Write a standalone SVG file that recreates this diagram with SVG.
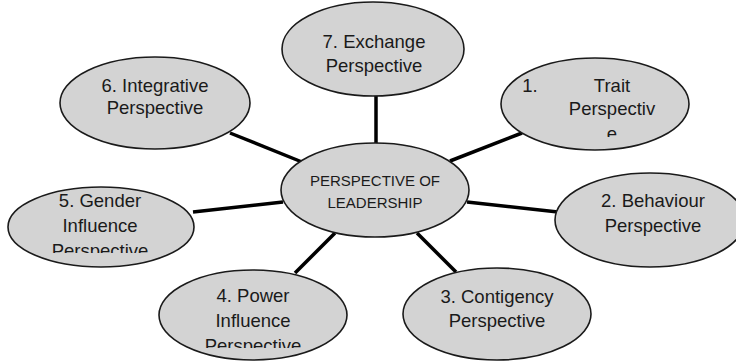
<svg xmlns="http://www.w3.org/2000/svg" width="736" height="361" viewBox="0 0 736 361">
<style>
.n{fill:#d3d3d3;stroke:#1a1a1a;stroke-width:1.6}
.t{font-family:"Liberation Sans",Arial,sans-serif;font-size:18.5px;fill:#1a1a1a;text-anchor:middle}
.c{font-family:"Liberation Sans",Arial,sans-serif;font-size:15px;fill:#1a1a1a;text-anchor:middle}
.e{stroke:#000;stroke-width:3.5;fill:none}
</style>
<defs>
<clipPath id="clipTrait"><rect x="500" y="50" width="200" height="87"/></clipPath>
<clipPath id="clipGender"><rect x="0" y="180" width="200" height="73"/></clipPath>
<clipPath id="clipPower"><rect x="150" y="265" width="210" height="83"/></clipPath>
</defs>
<rect width="736" height="361" fill="#fff"/>
<g id="connectors">
<line class="e" x1="376" y1="96" x2="376" y2="145"/>
<line class="e" x1="230" y1="133" x2="302" y2="162"/>
<line class="e" x1="450" y1="161" x2="522" y2="133"/>
<line class="e" x1="193" y1="212" x2="283" y2="202"/>
<line class="e" x1="467" y1="202" x2="558" y2="212"/>
<line class="e" x1="335" y1="233" x2="295" y2="273"/>
<line class="e" x1="417" y1="233" x2="456" y2="272"/>
</g>
<g id="center">
<ellipse class="n" cx="375" cy="190" rx="94" ry="47"/>
<text class="c" x="375" y="186">PERSPECTIVE OF</text>
<text class="c" x="375" y="208">LEADERSHIP</text>
</g>
<g id="n7">
<ellipse class="n" cx="373" cy="49" rx="91" ry="47"/>
<text class="t" x="374" y="48">7. Exchange</text>
<text class="t" x="374" y="72">Perspective</text>
</g>
<g id="n6">
<ellipse class="n" cx="155" cy="103" rx="95" ry="46"/>
<text class="t" x="155" y="92">6. Integrative</text>
<text class="t" x="155" y="114">Perspective</text>
</g>
<g id="n1">
<ellipse class="n" cx="595" cy="104" rx="94" ry="46"/>
<g clip-path="url(#clipTrait)">
<text class="t" x="530" y="92" text-anchor="start">1.</text>
<text class="t" x="612" y="92">Trait</text>
<text class="t" x="612" y="115">Perspectiv</text>
<text class="t" x="612" y="140">e</text>
</g>
</g>
<g id="n5">
<ellipse class="n" cx="101" cy="227" rx="93" ry="40"/>
<g clip-path="url(#clipGender)">
<text class="t" x="100" y="207">5. Gender</text>
<text class="t" x="100" y="232">Influence</text>
<text class="t" x="100" y="257">Perspective</text>
</g>
</g>
<g id="n2">
<ellipse class="n" cx="650" cy="220" rx="95" ry="47"/>
<text class="t" x="653" y="207">2. Behaviour</text>
<text class="t" x="653" y="232">Perspective</text>
</g>
<g id="n4">
<ellipse class="n" cx="253" cy="315" rx="94" ry="45"/>
<g clip-path="url(#clipPower)">
<text class="t" x="253" y="302">4. Power</text>
<text class="t" x="253" y="327">Influence</text>
<text class="t" x="253" y="352">Perspective</text>
</g>
</g>
<g id="n3">
<ellipse class="n" cx="497" cy="314" rx="94" ry="46"/>
<text class="t" x="497" y="303">3. Contigency</text>
<text class="t" x="497" y="327">Perspective</text>
</g>
</svg>
